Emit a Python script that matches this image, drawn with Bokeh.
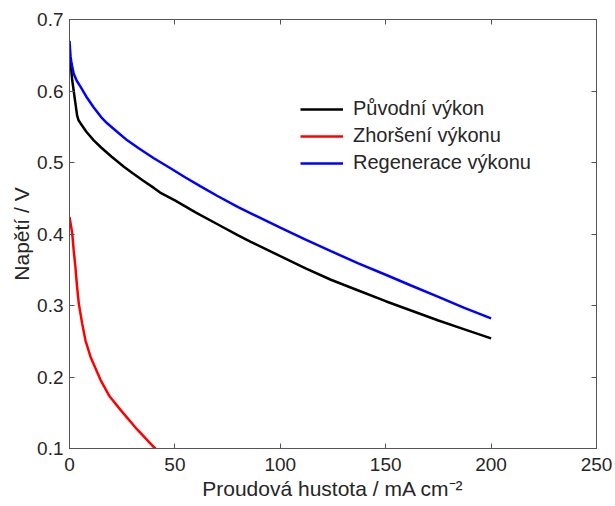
from bokeh.plotting import figure
from bokeh.models import Range1d, LinearAxis, FixedTicker, Legend, LegendItem
from bokeh.embed import file_html
from bokeh.resources import INLINE

# --- data ---
x_puvodni = [0, 0.5, 1.3, 2, 2.8, 3.6, 4.3, 5.2, 8, 11.5, 15, 20, 25.8, 30, 35, 40, 43, 50, 60, 70, 80, 86,
             100, 112, 124, 137, 150, 162, 175, 187, 200]
y_puvodni = [0.652, 0.640, 0.615, 0.600, 0.583, 0.566, 0.559, 0.555, 0.543, 0.531, 0.521, 0.508, 0.494,
             0.485, 0.4745, 0.4645, 0.458, 0.447, 0.430, 0.414, 0.398, 0.389, 0.369, 0.352, 0.336, 0.321,
             0.306, 0.293, 0.279, 0.267, 0.254]

x_zhorseni = [0, 1.3, 2.0, 2.8, 3.6, 4.4, 6.0, 7.6, 10, 14.7, 19, 24.2, 32, 40, 40.8]
y_zhorseni = [0.424, 0.401, 0.377, 0.354, 0.326, 0.303, 0.275, 0.251, 0.228, 0.196, 0.173, 0.154, 0.127,
              0.102, 0.1]

x_regen = [0, 0.5, 1, 2, 3.5, 5.2, 8, 11.5, 15, 18, 22, 27.4, 33, 40, 47.9, 55, 62, 70, 80, 86, 100, 112,
           124, 137, 150, 162, 175, 187, 200]
y_regen = [0.670, 0.648, 0.638, 0.624, 0.614, 0.606, 0.592, 0.577, 0.5635, 0.5545, 0.5445, 0.531, 0.5195,
           0.506, 0.492, 0.479, 0.467, 0.4535, 0.4375, 0.429, 0.409, 0.392, 0.376, 0.359, 0.343, 0.328,
           0.312, 0.297, 0.282]

series_names = ["Původní výkon", "Zhoršení výkonu", "Regenerace výkonu"]
series_colors = ["#000000", "#ff0000", "#0000ff"]

x_ticks = [0, 50, 100, 150, 200, 250]
y_ticks = [0.1, 0.2, 0.3, 0.4, 0.5, 0.6, 0.7]

x_label = "Proudová hustota / mA cm\u207b\u00b2"
y_label = "Napětí / V"

FONT = "Liberation Sans"
TEXT_COLOR = "#262626"
FRAME_COLOR = "#555555"

p = figure(width=615, height=506,
           x_range=Range1d(0, 250), y_range=Range1d(0.1, 0.7),
           output_backend="svg", toolbar_location=None,
           min_border_left=69, min_border_right=19, min_border_top=19, min_border_bottom=58)

p.grid.visible = False
p.background_fill_color = "white"
p.border_fill_color = "white"
p.outline_line_color = FRAME_COLOR
p.outline_line_width = 1

# mirror axes (ticks only, no labels painted)
p.add_layout(LinearAxis(), "above")
p.add_layout(LinearAxis(), "right")

for ax in p.axis:
    ax.axis_line_color = FRAME_COLOR
    ax.major_tick_line_color = FRAME_COLOR
    ax.major_tick_in = 5
    ax.major_tick_out = 0
    ax.minor_tick_line_color = None
    ax.major_label_text_font = FONT
    ax.major_label_text_font_size = "19px"
    ax.major_label_text_color = TEXT_COLOR
    ax.axis_label_text_font = FONT
    ax.axis_label_text_font_size = "21px"
    ax.axis_label_text_font_style = "normal"
    ax.axis_label_text_color = TEXT_COLOR

for ax in p.xaxis:
    ax.ticker = FixedTicker(ticks=x_ticks)
for ax in p.yaxis:
    ax.ticker = FixedTicker(ticks=y_ticks)

p.below[0].axis_label = x_label
p.below[0].major_label_standoff = 9
p.below[0].axis_label_standoff = 3
p.left[0].axis_label = y_label
p.left[0].major_label_standoff = 6
p.left[0].axis_label_standoff = 1

for ax in (p.above[0], p.right[0]):
    ax.major_label_text_color = None
    ax.major_label_text_font_size = "1px"
    ax.major_label_standoff = 0

r1 = p.line(x_puvodni, y_puvodni, line_color=series_colors[0], line_width=2.5)
r2 = p.line(x_zhorseni, y_zhorseni, line_color=series_colors[1], line_width=2.5)
r3 = p.line(x_regen, y_regen, line_color=series_colors[2], line_width=2.5)

legend = Legend(items=[LegendItem(label=series_names[0], renderers=[r1]),
                       LegendItem(label=series_names[1], renderers=[r2]),
                       LegendItem(label=series_names[2], renderers=[r3])],
                location=(231, 274),
                glyph_width=43, glyph_height=20, label_height=20,
                label_standoff=10, spacing=4, padding=0, margin=0,
                border_line_alpha=0, background_fill_alpha=0,
                label_text_font=FONT, label_text_font_size="20px",
                label_text_color=TEXT_COLOR)
p.add_layout(legend)

open("out.html", "w").write(file_html(p, INLINE))
